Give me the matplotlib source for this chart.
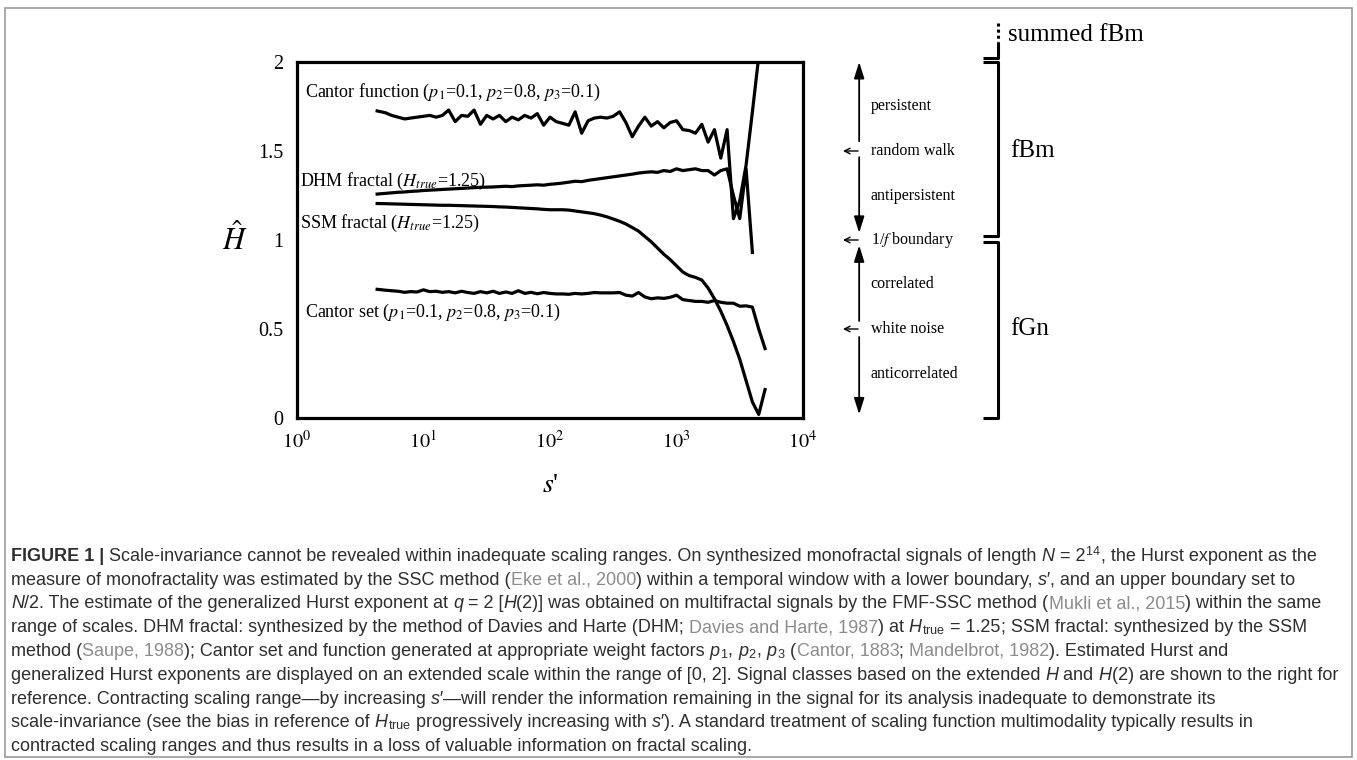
import numpy as np
import matplotlib
matplotlib.use('Agg')
import matplotlib.pyplot as plt
from matplotlib.patches import Rectangle

plt.rcParams['font.family'] = ['Liberation Serif', 'DejaVu Serif']
plt.rcParams['mathtext.fontset'] = 'stix'

# lower boundary of the scaling window, s'
s_prime = [4.3, 5.0, 5.6, 6.3, 7.1, 7.9, 8.9, 10, 11.2, 12.6, 14.1, 15.8, 17.8, 20, 22.4, 25.1,
           28.2, 31.6, 35.5, 39.8, 44.7, 50.1, 56.2, 63.1, 70.8, 79.4, 89.1, 100, 112, 126, 141,
           158, 178, 200, 224, 251, 282, 316, 355, 398, 447, 501, 562, 631, 708, 794, 891, 1000,
           1122, 1259, 1413, 1585, 1778, 1995, 2239, 2512, 2818, 3162, 3548, 3981, 4467, 5012]

h_cantor_fn = [1.725, 1.715, 1.70, 1.69, 1.68, 1.685, 1.69, 1.695, 1.70, 1.69,
               1.70, 1.73, 1.665, 1.70, 1.695, 1.73, 1.65, 1.70, 1.68, 1.70,
               1.665, 1.69, 1.675, 1.70, 1.685, 1.71, 1.645, 1.69, 1.665, 1.655,
               1.645, 1.72, 1.60, 1.67, 1.685, 1.69, 1.685, 1.695, 1.72, 1.66,
               1.58, 1.64, 1.69, 1.64, 1.665, 1.63, 1.66, 1.67, 1.62, 1.615,
               1.60, 1.65, 1.55, 1.62, 1.46, 1.62, 1.12, 1.22, 1.42, 1.72,
               2.03, 2.30]
h_dhm = [1.258, 1.262, 1.265, 1.268, 1.27, 1.273, 1.275, 1.278, 1.28, 1.282,
         1.284, 1.286, 1.288, 1.29, 1.292, 1.294, 1.296, 1.297, 1.298, 1.30,
         1.302, 1.30, 1.304, 1.306, 1.308, 1.31, 1.308, 1.313, 1.316, 1.32,
         1.325, 1.33, 1.328, 1.335, 1.34, 1.345, 1.35, 1.355, 1.36, 1.365,
         1.37, 1.376, 1.38, 1.383, 1.38, 1.39, 1.385, 1.40, 1.39, 1.395,
         1.40, 1.39, 1.39, 1.365, 1.39, 1.40, 1.25, 1.12, 1.40, 0.93]
h_ssm = [1.205, 1.204, 1.203, 1.202, 1.201, 1.20, 1.199, 1.198, 1.197, 1.196,
         1.195, 1.195, 1.194, 1.193, 1.192, 1.191, 1.19, 1.189, 1.188, 1.186,
         1.185, 1.183, 1.181, 1.179, 1.177, 1.175, 1.172, 1.17, 1.17, 1.17,
         1.168, 1.163, 1.158, 1.153, 1.148, 1.14, 1.13, 1.118, 1.105, 1.09,
         1.07, 1.05, 1.02, 0.99, 0.955, 0.92, 0.89, 0.855, 0.82, 0.80,
         0.79, 0.775, 0.73, 0.67, 0.60, 0.52, 0.43, 0.33, 0.21, 0.09,
         0.02, 0.16]
h_cantor_set = [0.723, 0.718, 0.715, 0.712, 0.706, 0.71, 0.708, 0.72, 0.71, 0.712,
                0.706, 0.71, 0.703, 0.712, 0.705, 0.70, 0.71, 0.703, 0.712, 0.70,
                0.708, 0.70, 0.715, 0.70, 0.706, 0.698, 0.705, 0.70, 0.697, 0.697,
                0.695, 0.70, 0.697, 0.70, 0.705, 0.703, 0.703, 0.703, 0.705, 0.69,
                0.685, 0.705, 0.68, 0.67, 0.675, 0.672, 0.678, 0.69, 0.665, 0.66,
                0.655, 0.655, 0.65, 0.66, 0.65, 0.645, 0.645, 0.628, 0.63, 0.623,
                0.50, 0.39]

curve_labels = [r'Cantor function ($p_1$=0.1, $p_2$=0.8, $p_3$=0.1)',
                r'DHM fractal ($H_{true}$=1.25)',
                r'SSM fractal ($H_{true}$=1.25)',
                r'Cantor set ($p_1$=0.1, $p_2$=0.8, $p_3$=0.1)']
label_pos = [(1.16, 1.83), (1.06, 1.33), (1.06, 1.095), (1.16, 0.595)]

x_ticks = [1, 10, 100, 1000, 10000]
x_ticklabels = [r'$10^{0}$', r'$10^{1}$', r'$10^{2}$', r'$10^{3}$', r'$10^{4}$']
y_ticks = [0, 0.5, 1, 1.5, 2]
y_ticklabels = ['0', '0.5', '1', '1.5', '2']

# signal classes shown on the right
class_text = ['persistent', 'random walk', 'antipersistent', '1/$f$ boundary',
              'correlated', 'white noise', 'anticorrelated']
class_h = [1.75, 1.5, 1.25, 1.0, 0.75, 0.5, 0.25]
marker_h = [1.5, 1.0, 0.5]

W, H = 1357, 760
fig = plt.figure(figsize=(W / 100, H / 100), dpi=100)
ax = fig.add_axes([297 / W, 1 - 418 / H, 506 / W, 356 / H])

for h in [h_cantor_fn, h_dhm, h_ssm, h_cantor_set]:
    ax.plot(s_prime[:len(h)], h, color='black', lw=2.3)

ax.set_xscale('log')
ax.set_xlim(1, 1e4)
ax.set_ylim(0, 2)
ax.set_xticks(x_ticks)
ax.set_xticklabels(x_ticklabels)
ax.set_yticks(y_ticks)
ax.set_yticklabels(y_ticklabels)
ax.minorticks_off()
ax.tick_params(axis='both', length=0, labelsize=14.5)
ax.tick_params(axis='x', pad=9)
ax.tick_params(axis='y', pad=10)
for sp in ax.spines.values():
    sp.set_linewidth(2.3)

ax.set_ylabel(r'$\hat{H}$', rotation=0, fontsize=22, ha='center', va='center')
ax.yaxis.set_label_coords(-0.1225, 0.5)
ax.set_xlabel(r"$s$'", fontsize=20, va='center')
ax.xaxis.set_label_coords(0.5, -0.19)

for txt, (x, y) in zip(curve_labels, label_pos):
    ax.text(x, y, txt, fontsize=13, va='center', ha='left')

# right-hand side annotations (x in axes fraction, y in H units)
tr = ax.get_yaxis_transform()
for txt, y in zip(class_text, class_h):
    ax.text(1.134, y, txt, transform=tr, fontsize=11.5, va='center', ha='left')
for y in marker_h:
    ax.annotate('', xy=(1.079, y), xytext=(1.109, y), xycoords=tr, textcoords=tr,
                arrowprops=dict(arrowstyle='->', lw=1, color='black',
                                shrinkA=0, shrinkB=0))
ax_x = 1.111
for (y0, y1) in [(1.555, 2.0), (1.465, 1.04), (0.545, 0.97), (0.455, 0.02)]:
    ax.annotate('', xy=(ax_x, y1), xytext=(ax_x, y0), xycoords=tr, textcoords=tr,
                arrowprops=dict(arrowstyle='-|>,head_length=0.7,head_width=0.22',
                                lw=1.3, color='black', shrinkA=0, shrinkB=0,
                                mutation_scale=14))

bx, tx = 1.385, 1.356
kw = dict(transform=tr, clip_on=False, color='black', lw=2.2, solid_capstyle='butt')
ax.plot([bx, bx], [2.22, 2.11], ls=(0, (1, 1)), **kw)
ax.plot([bx, bx, tx], [2.11, 2.02, 2.02], **kw)
ax.plot([tx, bx, bx, tx], [2.0, 2.0, 1.02, 1.02], **kw)
ax.plot([tx, bx, bx, tx], [0.99, 0.99, 0.0, 0.0], **kw)
ax.text(1.405, 2.15, 'summed fBm', transform=tr, fontsize=18, va='center', ha='left')
ax.text(1.409, 1.5, 'fBm', transform=tr, fontsize=18, va='center', ha='left')
ax.text(1.409, 0.5, 'fGn', transform=tr, fontsize=18, va='center', ha='left')

# frame around the whole figure
fig.patches.append(Rectangle((5 / W, 3 / H), 1347 / W, 749 / H, transform=fig.transFigure,
                             fill=False, ec='#9a9a9a', lw=1.2))

# caption
dark, grey = '#2e2e2e', '#8c8c8c'
caption = [
    [('FIGURE 1 |', 'b'), (' Scale-invariance cannot be revealed within inadequate scaling ranges. '
     'On synthesized monofractal signals of length ', 'n'), ('N', 'i'), (' = 2', 'n'),
     (r'$\mathregular{^{14}}$', 'n'), (', the Hurst exponent as the', 'n')],
    [('measure of monofractality was estimated by the SSC method (', 'n'),
     ('Eke et al., 2000', 'g'),
     (') within a temporal window with a lower boundary, ', 'n'), ('s\u2032', 'i'),
     (', and an upper boundary set to', 'n')],
    [('N', 'i'), ('/2. The estimate of the generalized Hurst exponent at ', 'n'),
     ('q', 'i'), (' = 2 [', 'n'), ('H', 'i'),
     ('(2)] was obtained on multifractal signals by the FMF-SSC method (', 'n'),
     ('Mukli et al., 2015', 'g'), (') within the same', 'n')],
    [('range of scales. DHM fractal: synthesized by the method of Davies and Harte (DHM; ', 'n'),
     ('Davies and Harte, 1987', 'g'), (') at ', 'n'), ('H', 'i'),
     (r'$\mathregular{_{true}}$', 'n'), (' = 1.25', 'n'),
     ('; SSM fractal: synthesized by the SSM', 'n')],
    [('method (', 'n'), ('Saupe, 1988', 'g'),
     ('); Cantor set and function generated at appropriate weight factors ', 'n'),
     ('p', 'i'), (r'$\mathregular{_1}$', 'n'), (', ', 'n'), ('p', 'i'),
     (r'$\mathregular{_2}$', 'n'), (', ', 'n'), ('p', 'i'), (r'$\mathregular{_3}$', 'n'),
     (' (', 'n'), ('Cantor, 1883', 'g'), ('; ', 'n'),
     ('Mandelbrot, 1982', 'g'), ('). Estimated Hurst and', 'n')],
    [('generalized Hurst exponents are displayed on an extended scale within the range of [0, 2]. '
      'Signal classes based on the extended ', 'n'), ('H', 'i'), (' and ', 'n'),
     ('H', 'i'), ('(2) are shown to the right for', 'n')],
    [('reference. Contracting scaling range\u2014by increasing ', 'n'), ('s\u2032', 'i'),
     ('\u2014will render the information remaining in the signal for its analysis '
      'inadequate to demonstrate its', 'n')],
    [('scale-invariance (see the bias in reference of ', 'n'), ('H', 'i'),
     (r'$\mathregular{_{true}}$', 'n'),
     (' progressively increasing with ', 'n'), ('s\u2032', 'i'),
     ('). A standard treatment of scaling function multimodality typically results in', 'n')],
    [('contracted scaling ranges and thus results in a loss of valuable information on '
      'fractal scaling.', 'n')],
]

renderer = fig.canvas.get_renderer()
cap_kw = dict(family=['Liberation Sans', 'DejaVu Sans'], fontsize=12.95,
              math_fontfamily='stixsans')


def seg_width(s, **kw):
    if s.startswith('$'):
        t = fig.text(0, 0, s, **kw)
        w = t.get_window_extent(renderer).width
        t.remove()
        return w
    t1 = fig.text(0, 0, '|' + s + '|', **kw)
    t2 = fig.text(0, 0, '||', **kw)
    w = t1.get_window_extent(renderer).width - t2.get_window_extent(renderer).width
    t1.remove()
    t2.remove()
    return w


for i, line in enumerate(caption):
    x = 11
    yb = 561 + 23.75 * i
    for s, st in line:
        kw2 = dict(cap_kw, color=grey if st == 'g' else dark,
                   weight='bold' if st == 'b' else 'normal',
                   style='italic' if st == 'i' else 'normal')
        fig.text(x / W, 1 - yb / H, s, va='baseline', ha='left', **kw2)
        x += seg_width(s, **kw2)

fig.savefig('out.png', dpi=100)
